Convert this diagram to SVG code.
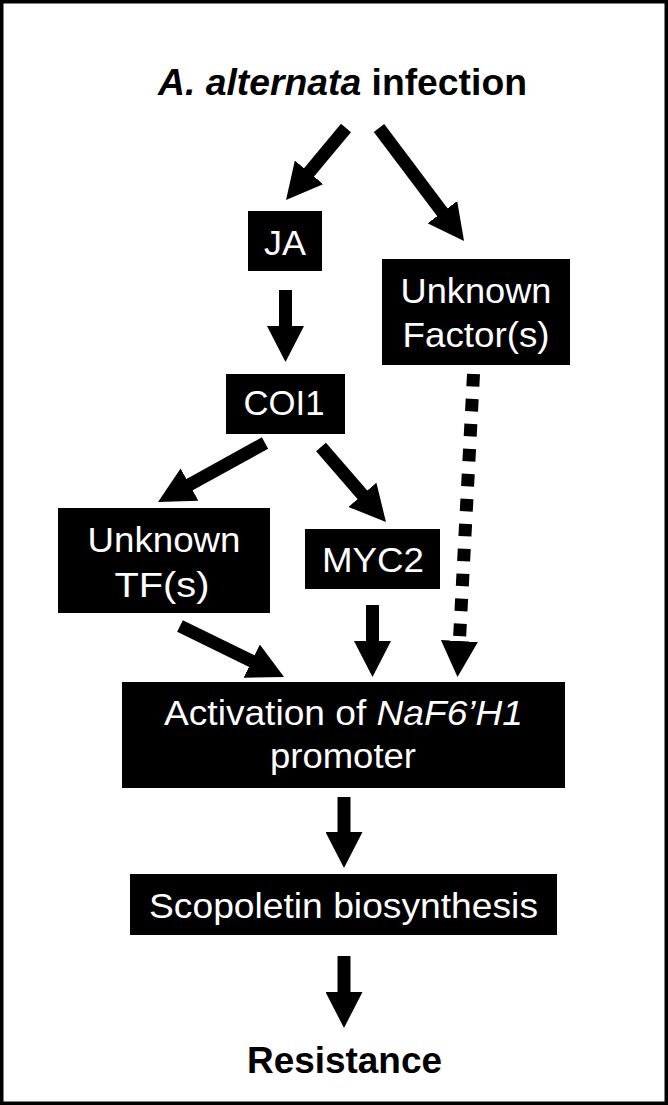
<svg xmlns="http://www.w3.org/2000/svg" width="668" height="1105" viewBox="0 0 668 1105">
<style>
text{font-family:"Liberation Sans",Arial,Helvetica,sans-serif;text-anchor:middle}
.w{fill:#fff;font-size:35px}
.b{fill:#000;font-size:37px;font-weight:bold}
.box{fill:#000}
.c line{stroke:#000;stroke-width:13;fill:none;marker-end:url(#ah)}
</style>
<defs>
<marker id="ah" markerUnits="userSpaceOnUse" viewBox="0 0 36 37" markerWidth="36" markerHeight="37" refX="2" refY="18.5" orient="auto"><path d="M0,0 L36,18.5 L0,37 z" fill="#000"/></marker>
</defs>
<rect x="1.75" y="1.75" width="664.5" height="1101.5" fill="#fff" stroke="#000" stroke-width="3.5"/>
<g id="infection"><text class="b" x="342.5" y="95" textLength="369" lengthAdjust="spacingAndGlyphs"><tspan font-style="italic">A. alternata</tspan> infection</text></g>
<g id="ja"><rect class="box" x="248" y="211" width="74" height="60"/><text class="w" x="285" y="255" textLength="42" lengthAdjust="spacingAndGlyphs">JA</text></g>
<g id="unknown-factor"><rect class="box" x="382" y="259" width="188" height="106"/><text class="w" x="476" y="303" textLength="151" lengthAdjust="spacingAndGlyphs">Unknown</text><text class="w" x="476" y="347" textLength="147" lengthAdjust="spacingAndGlyphs">Factor(s)</text></g>
<g id="coi1"><rect class="box" x="226" y="374" width="119" height="60"/><text class="w" x="284" y="415" textLength="81" lengthAdjust="spacingAndGlyphs">COI1</text></g>
<g id="unknown-tf"><rect class="box" x="58" y="508" width="212" height="105"/><text class="w" x="164" y="552" textLength="153" lengthAdjust="spacingAndGlyphs">Unknown</text><text class="w" x="162" y="597" textLength="95" lengthAdjust="spacingAndGlyphs">TF(s)</text></g>
<g id="myc2"><rect class="box" x="305" y="529" width="135" height="60"/><text class="w" x="373" y="572" textLength="102" lengthAdjust="spacingAndGlyphs">MYC2</text></g>
<g id="activation"><rect class="box" x="122" y="682" width="443" height="106"/><text class="w" x="343.5" y="725" textLength="359" lengthAdjust="spacingAndGlyphs">Activation of <tspan font-style="italic">NaF6’H1</tspan></text><text class="w" x="343" y="768" textLength="146" lengthAdjust="spacingAndGlyphs">promoter</text></g>
<g id="scopoletin"><rect class="box" x="130" y="874" width="427" height="61"/><text class="w" x="343.5" y="918" textLength="389" lengthAdjust="spacingAndGlyphs">Scopoletin biosynthesis</text></g>
<g id="resistance"><text class="b" x="344.5" y="1073" textLength="195" lengthAdjust="spacingAndGlyphs">Resistance</text></g>
<g id="connectors" class="c">
<line x1="346" y1="128" x2="307.8" y2="173.9"/>
<line x1="379" y1="128" x2="443.6" y2="213.8"/>
<line x1="285.5" y1="290" x2="285.5" y2="328"/>
<line x1="265" y1="443" x2="187.8" y2="485.6"/>
<line x1="321" y1="447" x2="363.7" y2="496.3"/>
<line x1="180" y1="626" x2="253.5" y2="662"/>
<line x1="372.5" y1="605" x2="372.5" y2="643"/>
<line x1="473.5" y1="374" x2="459.3" y2="643" stroke-dasharray="12.5 12.5"/>
<line x1="344" y1="797" x2="344" y2="834"/>
<line x1="344" y1="956" x2="344" y2="994"/>
</g>
</svg>
